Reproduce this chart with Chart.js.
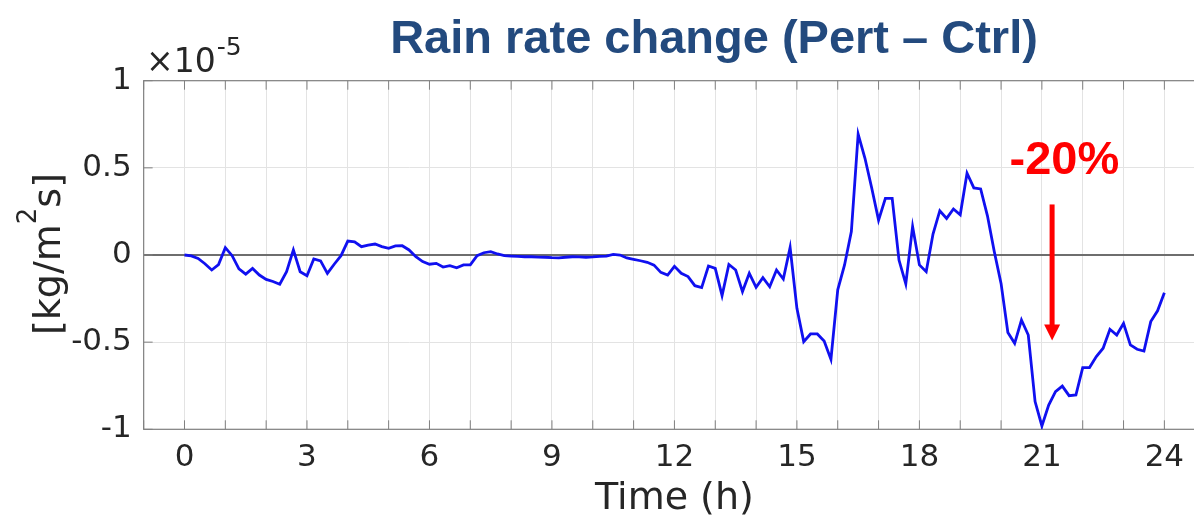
<!DOCTYPE html>
<html>
<head>
<meta charset="utf-8">
<script src="https://cdn.jsdelivr.net/npm/chart.js@4.4.1/dist/chart.umd.min.js"></script>
<style>
  html, body { margin: 0; padding: 0; background: #ffffff; overflow: hidden; width: 1194px; height: 520px; }
  #wrap { position: absolute; left: 0; top: 0; width: 1220px; height: 520px; }
</style>
</head>
<body>
<div id="wrap"><canvas id="rain" width="1220" height="520"></canvas></div>
<script>
// Domain-mean rain rate difference, perturbed minus control run,
// in units of 1e-5 kg m^-2 s^-1, one value every 10 minutes from 0 to 24 h.
const rainChange = [
   0.000, -0.005, -0.020, -0.050, -0.086, -0.055,   // 0 h
   0.042, -0.004, -0.080, -0.110, -0.077, -0.115,   // 1 h
  -0.140, -0.152, -0.168, -0.096,  0.029, -0.096,   // 2 h
  -0.119, -0.023, -0.034, -0.105, -0.053, -0.004,   // 3 h
   0.080,  0.076,  0.048,  0.057,  0.063,  0.048,   // 4 h
   0.038,  0.052,  0.053,  0.029, -0.010, -0.038,   // 5 h
  -0.053, -0.048, -0.069, -0.061, -0.073, -0.057,   // 6 h
  -0.057, -0.004,  0.013,  0.019,  0.006, -0.004,   // 7 h
  -0.006, -0.008, -0.010, -0.010, -0.012, -0.013,   // 8 h
  -0.015, -0.016, -0.013, -0.010, -0.011, -0.013,   // 9 h
  -0.011, -0.008, -0.006,  0.004,  0.000, -0.017,   // 10 h
  -0.025, -0.033, -0.042, -0.058, -0.100, -0.115,   // 11 h
  -0.065, -0.105, -0.124, -0.176, -0.187, -0.063,   // 12 h
  -0.077, -0.233, -0.054, -0.086, -0.210, -0.105,   // 13 h
  -0.185, -0.130, -0.182, -0.086, -0.138,  0.043,   // 14 h
  -0.306, -0.497, -0.453, -0.453, -0.493, -0.599,   // 15 h
  -0.200, -0.057,  0.134,  0.694,  0.555,  0.383,   // 16 h
   0.200,  0.325,  0.325, -0.029, -0.166,  0.163,   // 17 h
  -0.057, -0.096,  0.120,  0.254,  0.210,  0.264,   // 18 h
   0.231,  0.469,  0.385,  0.379,  0.225,  0.020,   // 19 h
  -0.163, -0.445, -0.507, -0.373, -0.459, -0.841,   // 20 h
  -0.981, -0.861, -0.784, -0.752, -0.807, -0.803,   // 21 h
  -0.646, -0.646, -0.583, -0.535, -0.426, -0.459,   // 22 h
  -0.392, -0.516, -0.541, -0.551, -0.382, -0.320,   // 23 h
  -0.216                                            // 24 h
];
const stepMinutes = 10;
const hours = rainChange.map((_, i) => i * stepMinutes / 60);

const xTickLabels = ['0', '3', '6', '9', '12', '15', '18', '21', '24'];
const yTickValues = [-1, -0.5, 0, 0.5, 1];
const yExponent = '-5';

const titleText = 'Rain rate change (Pert \u2013 Ctrl)';
const xTitle = 'Time (h)';
const yTitleParts = ['[kg/m', '2', 's]'];

// "-20%" callout: label position and arrow span in data units
const callout = { text: '-20%', labelHour: 21.55, labelValue: 0.465, arrowHour: 21.25, arrowFrom: 0.29, arrowTo: -0.49 };

const AXIS_GREY = '#808080';
const TEXT_DARK = '#262626';
const GRID_GREY = '#e3e3e3';

const framePlugin = {
  id: 'frame',
  beforeDatasetsDraw(chart) {
    const { ctx, chartArea: a, scales: { x, y } } = chart;
    ctx.save();
    ctx.strokeStyle = AXIS_GREY;
    ctx.lineWidth = 1.2;
    ctx.strokeRect(a.left, a.top, a.right - a.left, a.bottom - a.top);
    // inward tick marks
    ctx.lineWidth = 1;
    const tl = 9;
    ctx.beginPath();
    for (let h = Math.ceil(x.min); h <= x.max; h++) {
      const px = x.getPixelForValue(h);
      ctx.moveTo(px, a.bottom); ctx.lineTo(px, a.bottom - tl);
      ctx.moveTo(px, a.top); ctx.lineTo(px, a.top + tl);
    }
    yTickValues.forEach(v => {
      const py = y.getPixelForValue(v);
      ctx.moveTo(a.left, py); ctx.lineTo(a.left + tl, py);
    });
    ctx.stroke();
    ctx.restore();
  },
  afterDraw(chart) {
    const { ctx, chartArea: a, scales: { x, y } } = chart;
    ctx.save();

    // main title
    ctx.fillStyle = '#234a7e';
    ctx.font = 'bold 47px "Liberation Sans", Arial, sans-serif';
    ctx.textAlign = 'center';
    ctx.textBaseline = 'alphabetic';
    ctx.fillText(titleText, 714, 53);

    // axis multiplier
    ctx.fillStyle = TEXT_DARK;
    ctx.textAlign = 'left';
    ctx.font = '33px "DejaVu Sans"';
    const base = '\u00d710';
    ctx.fillText(base, 146, 72);
    const bw = ctx.measureText(base).width;
    ctx.font = '25px "DejaVu Sans"';
    ctx.fillText(yExponent, 146 + bw + 1, 55);

    // x axis title
    ctx.font = '38px "DejaVu Sans"';
    ctx.textAlign = 'center';
    ctx.fillText(xTitle, (a.left + a.right) / 2, 509);

    // y axis title, rotated, with superscript
    ctx.save();
    ctx.translate(60, 254);
    ctx.rotate(-Math.PI / 2);
    const mainFont = '38px "DejaVu Sans"';
    const supFont = '26px "DejaVu Sans"';
    ctx.font = mainFont;
    const w0 = ctx.measureText(yTitleParts[0]).width;
    const w2 = ctx.measureText(yTitleParts[2]).width;
    ctx.font = supFont;
    const w1 = ctx.measureText(yTitleParts[1]).width;
    let cx = -(w0 + w1 + w2) / 2;
    ctx.textAlign = 'left';
    ctx.font = mainFont;
    ctx.fillText(yTitleParts[0], cx, 0); cx += w0;
    ctx.font = supFont;
    ctx.fillText(yTitleParts[1], cx, -24); cx += w1;
    ctx.font = mainFont;
    ctx.fillText(yTitleParts[2], cx, 0);
    ctx.restore();

    // callout label and arrow
    ctx.fillStyle = '#ff0000';
    ctx.strokeStyle = '#ff0000';
    ctx.font = 'bold 47px "Liberation Sans", Arial, sans-serif';
    ctx.textAlign = 'center';
    ctx.fillText(callout.text, x.getPixelForValue(callout.labelHour), y.getPixelForValue(callout.labelValue));
    const ax = x.getPixelForValue(callout.arrowHour);
    const ay0 = y.getPixelForValue(callout.arrowFrom);
    const ay1 = y.getPixelForValue(callout.arrowTo);
    const headLen = 16, headHalf = 8;
    ctx.lineWidth = 5;
    ctx.beginPath();
    ctx.moveTo(ax, ay0);
    ctx.lineTo(ax, ay1 - headLen + 1);
    ctx.stroke();
    ctx.beginPath();
    ctx.moveTo(ax - headHalf, ay1 - headLen);
    ctx.lineTo(ax + headHalf, ay1 - headLen);
    ctx.lineTo(ax, ay1);
    ctx.closePath();
    ctx.fill();

    ctx.restore();
  }
};

new Chart(document.getElementById('rain').getContext('2d'), {
  type: 'line',
  data: {
    datasets: [{
      data: hours.map((h, i) => ({ x: h, y: rainChange[i] })),
      borderColor: '#1010f0',
      borderWidth: 2.8,
      pointRadius: 0,
      tension: 0,
      fill: false
    }]
  },
  options: {
    responsive: false,
    animation: false,
    devicePixelRatio: 1,
    layout: { padding: { top: 80.7, right: 14.8, left: 0, bottom: 0 } },
    plugins: { legend: { display: false }, tooltip: { enabled: false }, title: { display: false } },
    scales: {
      x: {
        type: 'linear',
        min: -1,
        max: 25,
        afterFit(s) { s.height = 90.7; },
        afterBuildTicks(s) {
          const t = [];
          for (let v = -1; v <= 25; v++) t.push({ value: v });
          s.ticks = t;
        },
        ticks: {
          autoSkip: false,
          maxRotation: 0,
          padding: 10,
          color: TEXT_DARK,
          font: { family: 'DejaVu Sans', size: 31 },
          callback: (v) => xTickLabels.includes(String(v)) ? String(v) : ''
        },
        grid: { color: GRID_GREY, lineWidth: 1, drawTicks: false },
        border: { display: false }
      },
      y: {
        min: -1,
        max: 1,
        afterFit(s) { s.width = 143.67; },
        afterBuildTicks(s) { s.ticks = yTickValues.map(v => ({ value: v })); },
        ticks: {
          padding: 12,
          color: TEXT_DARK,
          font: { family: 'DejaVu Sans', size: 31 },
          callback: (v) => String(v)
        },
        grid: {
          color: (c) => (c.tick && c.tick.value === 0) ? '#6e6e6e' : GRID_GREY,
          lineWidth: (c) => (c.tick && c.tick.value === 0) ? 2 : 1,
          drawTicks: false
        },
        border: { display: false }
      }
    }
  },
  plugins: [framePlugin]
});
</script>
</body>
</html>
